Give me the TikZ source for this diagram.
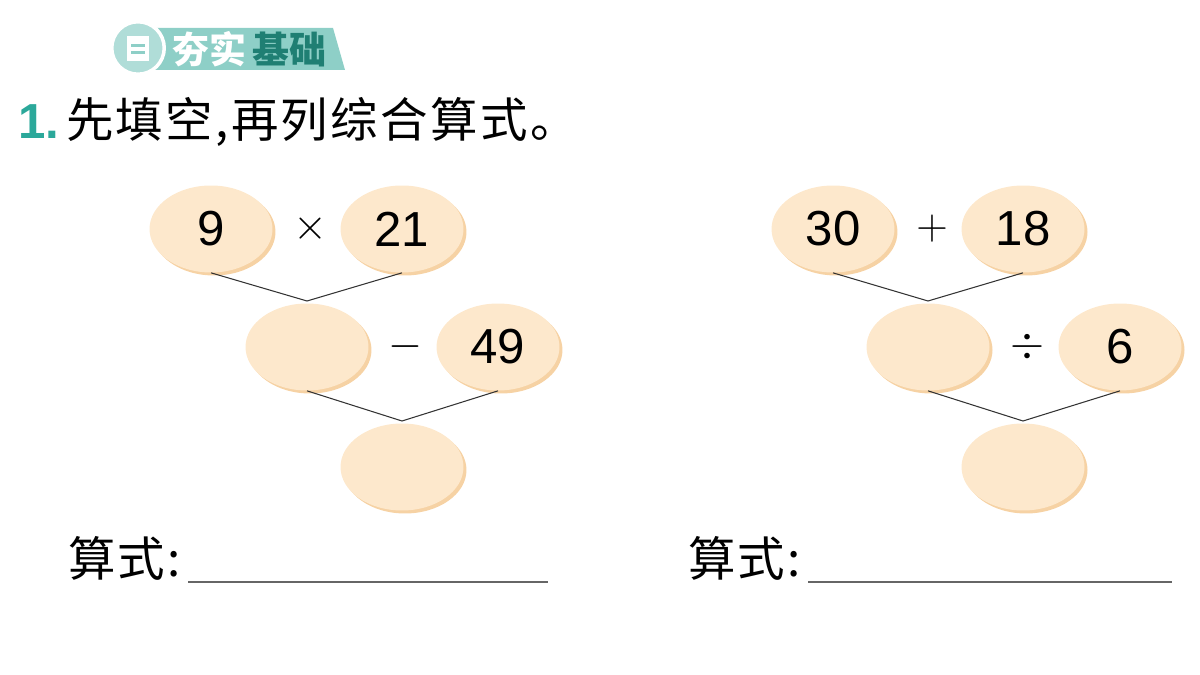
\documentclass[tikz,border=0pt]{standalone}
\usepackage{fontspec}
\setmainfont{Liberation Sans}
\newfontfamily\cjk{Noto Sans CJK SC}
\newfontfamily\cjkwide[LetterSpace=5]{Noto Sans CJK SC}
\usetikzlibrary{shapes.geometric}
\definecolor{egg}{HTML}{FDE8CC}
\definecolor{eggshade}{HTML}{F6D2A4}
\definecolor{teal1}{HTML}{8ECFC7}
\definecolor{teal2}{HTML}{2BA89A}
\definecolor{tealdark}{HTML}{1F7F73}
\begin{document}
\begin{tikzpicture}[x=0.02cm,y=-0.02cm,
		oval/.style = {ellipse, fill=egg, minimum width=2.46cm, minimum height=1.74cm,
			inner sep=0pt, font=\fontsize{28}{28}\selectfont},
		ovalshade/.style = {ellipse, fill=eggshade, minimum width=2.46cm, minimum height=1.74cm},
		op/.style = {font=\fontsize{28}{28}\selectfont},
		link/.style = {draw=black!80, line width=0.6pt},
		answer/.style = {draw=black!60, line width=0.6pt}
	]
	\useasboundingbox (0,0) rectangle (1200,675);
	% badge
	\fill[teal1] (130,28) -- (333,28) -- (345,70) -- (130,70) -- cycle;
	\node (badgeicon) [circle, fill=teal1!70, draw=white, line width=2pt, minimum size=1.05cm] at (138,48) {};
	\fill[white] (127,36) rectangle (149,61);
	\fill[teal1] (131,44) rectangle (145,47);
	\fill[teal1] (131,51) rectangle (145,54);
	\node (badge1) [anchor=west, text=white, font=\cjk\bfseries\fontsize{21}{21}\selectfont] at (166,49) {夯实};
	\node (badge2) [anchor=west, text=tealdark, font=\cjk\bfseries\fontsize{21}{21}\selectfont] at (246,49) {基础};
	% title
	\node (num) [anchor=west, text=teal2, font=\bfseries\fontsize{28}{28}\selectfont] at (12,122) {1.};
	\node (title) [anchor=west, font=\cjkwide\fontsize{27}{27}\selectfont] at (60,122) {先填空,再列综合算式。};
	% left tree
	\foreach \x/\y in {211/229,402/229,307/347,498/347,402/467,833/229,1023/229,928/347,1120/347,1023/467}
		\node [ovalshade] at (\x+3,\y+3) {};
	\node (la) [oval] at (211,229) {9};
	\node (lb) [oval] at (402,229) {21};
	\node (lc) [oval] at (307,347) {};
	\node (ld) [oval] at (498,347) {49};
	\node (le) [oval] at (402,467) {};
	\node (lop1) [op] at (310,229) {$\times$};
	\node (lop2) [op] at (405,347) {$-$};
	\coordinate (ljoin1) at (307,301);
	\coordinate (ljoin2) at (402,421);
	\draw [link] (la.south) -- (ljoin1) -- (lb.south);
	\draw [link] (lc.south) -- (ljoin2) -- (ld.south);
	% right tree
	\node (ra) [oval] at (833,229) {30};
	\node (rb) [oval] at (1023,229) {18};
	\node (rc) [oval] at (928,347) {};
	\node (rd) [oval] at (1120,347) {6};
	\node (re) [oval] at (1023,467) {};
	\node (rop1) [op] at (932,229) {$+$};
	\node (rop2) [op] at (1027,347) {$\div$};
	\coordinate (rjoin1) at (928,301);
	\coordinate (rjoin2) at (1023,421);
	\draw [link] (ra.south) -- (rjoin1) -- (rb.south);
	\draw [link] (rc.south) -- (rjoin2) -- (rd.south);
	% answers
	\node (lans) [anchor=west, font=\cjkwide\fontsize{27}{27}\selectfont] at (62,558) {算式:};
	\node (rans) [anchor=west, font=\cjkwide\fontsize{27}{27}\selectfont] at (682,558) {算式:};
	\coordinate (lline) at (548,582);
	\coordinate (rline) at (1172,582);
	\draw [answer] (188,582) -- (lline);
	\draw [answer] (808,582) -- (rline);
\end{tikzpicture}
\end{document}
